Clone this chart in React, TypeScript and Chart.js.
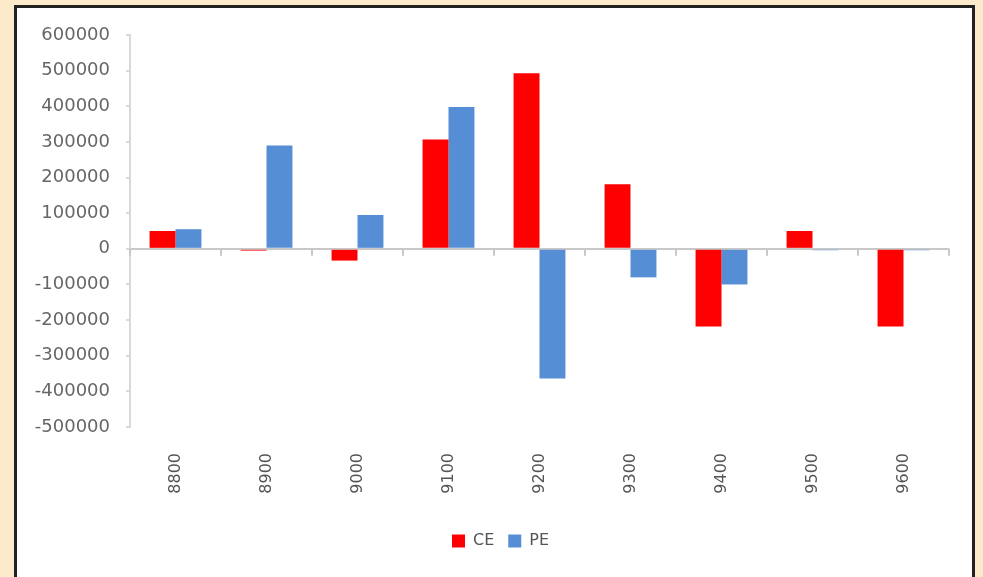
import React, { useEffect, useRef } from "react";
import { Chart, registerables } from "chart.js";

Chart.register(...registerables);

const categories = ["8800", "8900", "9000", "9100", "9200", "9300", "9400", "9500", "9600"];
const ceValues = [50000, -5000, -33000, 307000, 493000, 181000, -218000, 50000, -218000];
const peValues = [55000, 290000, 95000, 398000, -364000, -80000, -100000, -4000, -4000];
const yMin = -500000;
const yMax = 600000;
const yStep = 100000;

const boundaryTicks = {
  id: "boundaryTicks",
  afterLayout(chart: any) {
    if (chart.legend) {
      chart.legend.left += 26;
      chart.legend.right += 26;
    }
  },
  beforeDatasetsDraw(chart: any) {
    const x = chart.scales.x;
    const y = chart.scales.y;
    const ctx = chart.ctx;
    const zero = y.getPixelForValue(0);
    const half = (x.getPixelForValue(1) - x.getPixelForValue(0)) / 2;
    ctx.save();
    ctx.strokeStyle = "#c8c8c8";
    ctx.lineWidth = 2;
    for (let i = 0; i <= categories.length; i++) {
      const px = x.getPixelForValue(i) - half;
      ctx.beginPath();
      ctx.moveTo(px, zero);
      ctx.lineTo(px, zero + 7);
      ctx.stroke();
    }
    ctx.restore();
  },
};

export default function App() {
  const ref = useRef<HTMLCanvasElement | null>(null);
  useEffect(() => {
    if (!ref.current) return;
    const chart = new Chart(ref.current, {
      type: "bar",
      data: {
        labels: categories,
        datasets: [
          { label: "CE", data: ceValues, backgroundColor: "#ff0000", borderWidth: 0 },
          { label: "PE", data: peValues, backgroundColor: "#558ed5", borderWidth: 0 },
        ],
      },
      options: {
        animation: false,
        responsive: false,
        maintainAspectRatio: false,
        layout: { padding: { top: 35, right: 34, bottom: 18, left: 0 } },
        datasets: { bar: { categoryPercentage: 0.57, barPercentage: 1 } },
        plugins: {
          tooltip: { enabled: false },
          legend: {
            position: "bottom",
            labels: {
              boxWidth: 13,
              boxHeight: 13,
              padding: 14,
              color: "#555",
              font: { family: "DejaVu Sans", size: 16 },
            },
          },
        },
        scales: {
          x: {
            grid: { display: false, drawTicks: false },
            border: { display: false },
            ticks: {
              minRotation: 90,
              maxRotation: 90,
              padding: 26,
              color: "#555",
              font: { family: "DejaVu Sans", size: 16 },
            },
            afterFit: (s: any) => {
              s.height = 92;
            },
          },
          y: {
            min: yMin,
            max: yMax,
            ticks: {
              stepSize: yStep,
              padding: 16,
              color: "#666",
              font: { family: "DejaVu Sans", size: 18 },
              callback: (v: any) => String(v),
            },
            grid: {
              drawTicks: true,
              tickLength: 4,
              tickColor: "#d9d9d9",
              lineWidth: 2,
              color: (c: any) => (c.tick && c.tick.value === 0 ? "#c8c8c8" : "rgba(0,0,0,0)"),
            },
            border: { display: true, color: "#d9d9d9", width: 2 },
            afterFit: (s: any) => {
              s.width = 130;
            },
          },
        },
      },
      plugins: [boundaryTicks],
    });
    return () => chart.destroy();
  }, []);

  return (
    <div style={{ position: "fixed", left: 0, top: 0, width: 983, height: 577, background: "#fdeacb", overflow: "hidden" }}>
      <div
        style={{
          position: "absolute",
          left: 14,
          top: 5,
          width: 955,
          height: 620,
          border: "3px solid #222",
          background: "#fff",
        }}
      />
      <canvas ref={ref} width={983} height={577} style={{ position: "absolute", left: 0, top: 0 }} />
    </div>
  );
}
